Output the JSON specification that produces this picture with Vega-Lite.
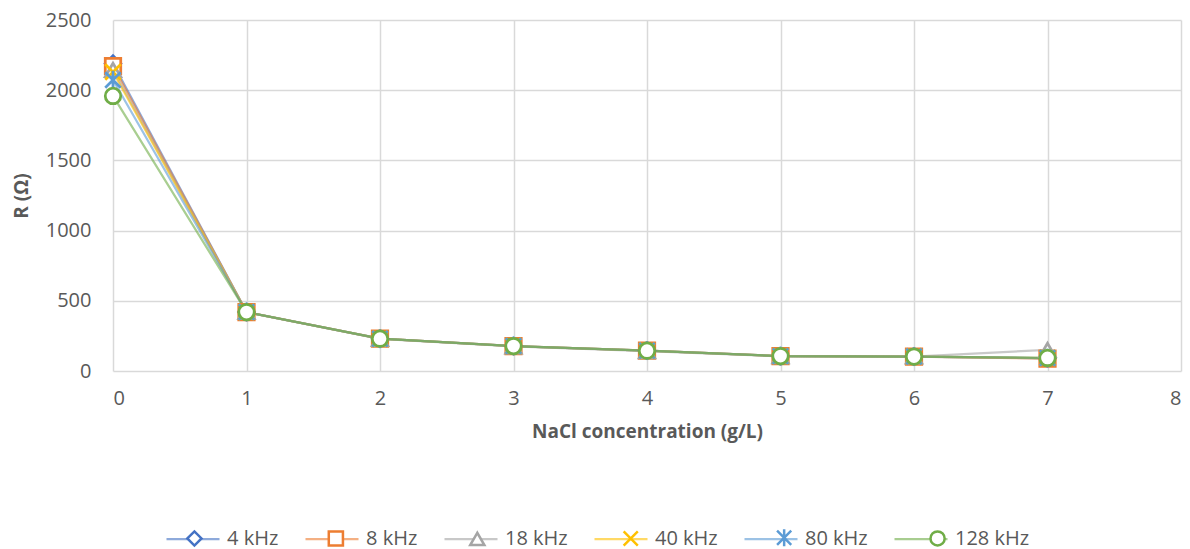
{
  "$schema": "https://vega.github.io/schema/vega-lite/v6.json",
  "width": 1068,
  "height": 351,
  "autosize": {"type": "none"},
  "padding": {"left": 113, "top": 20, "right": 9, "bottom": 178},
  "background": "white",
  "config": {
    "view": {"stroke": null},
    "font": "Open Sans",
    "axis": {
      "labelFont": "Open Sans",
      "labelFontSize": 20,
      "labelColor": "#595959",
      "titleFont": "Open Sans",
      "titleFontSize": 19,
      "titleFontWeight": "bold",
      "titleColor": "#595959",
      "gridColor": "#d9d9d9",
      "gridWidth": 1.5,
      "domain": false,
      "ticks": false
    },
    "legend": {
      "labelFont": "Open Sans",
      "labelFontSize": 20,
      "labelColor": "#595959"
    }
  },
  "data": {
    "values": [
      {"f": 0, "R": 2190, "s": "4 kHz"}, {"f": 1, "R": 420, "s": "4 kHz"}, {"f": 2, "R": 230, "s": "4 kHz"}, {"f": 3, "R": 178, "s": "4 kHz"}, {"f": 4, "R": 145, "s": "4 kHz"}, {"f": 5, "R": 106, "s": "4 kHz"}, {"f": 6, "R": 103, "s": "4 kHz"}, {"f": 7, "R": 90, "s": "4 kHz"},
      {"f": 0, "R": 2172, "s": "8 kHz"}, {"f": 1, "R": 420, "s": "8 kHz"}, {"f": 2, "R": 230, "s": "8 kHz"}, {"f": 3, "R": 178, "s": "8 kHz"}, {"f": 4, "R": 145, "s": "8 kHz"}, {"f": 5, "R": 106, "s": "8 kHz"}, {"f": 6, "R": 103, "s": "8 kHz"}, {"f": 7, "R": 88, "s": "8 kHz"},
      {"f": 0, "R": 2144, "s": "18 kHz"}, {"f": 1, "R": 420, "s": "18 kHz"}, {"f": 2, "R": 228, "s": "18 kHz"}, {"f": 3, "R": 175, "s": "18 kHz"}, {"f": 4, "R": 142, "s": "18 kHz"}, {"f": 5, "R": 105, "s": "18 kHz"}, {"f": 6, "R": 103, "s": "18 kHz"}, {"f": 7, "R": 150, "s": "18 kHz"},
      {"f": 0, "R": 2130, "s": "40 kHz"}, {"f": 1, "R": 420, "s": "40 kHz"}, {"f": 2, "R": 230, "s": "40 kHz"}, {"f": 3, "R": 178, "s": "40 kHz"}, {"f": 4, "R": 145, "s": "40 kHz"}, {"f": 5, "R": 106, "s": "40 kHz"}, {"f": 6, "R": 103, "s": "40 kHz"}, {"f": 7, "R": 92, "s": "40 kHz"},
      {"f": 0, "R": 2073, "s": "80 kHz"}, {"f": 1, "R": 420, "s": "80 kHz"}, {"f": 2, "R": 230, "s": "80 kHz"}, {"f": 3, "R": 178, "s": "80 kHz"}, {"f": 4, "R": 145, "s": "80 kHz"}, {"f": 5, "R": 106, "s": "80 kHz"}, {"f": 6, "R": 103, "s": "80 kHz"}, {"f": 7, "R": 92, "s": "80 kHz"},
      {"f": 0, "R": 1959, "s": "128 kHz"}, {"f": 1, "R": 420, "s": "128 kHz"}, {"f": 2, "R": 230, "s": "128 kHz"}, {"f": 3, "R": 178, "s": "128 kHz"}, {"f": 4, "R": 145, "s": "128 kHz"}, {"f": 5, "R": 106, "s": "128 kHz"}, {"f": 6, "R": 103, "s": "128 kHz"}, {"f": 7, "R": 93, "s": "128 kHz"}
    ]
  },
  "encoding": {
    "x": {
      "field": "f", "type": "quantitative",
      "scale": {"domain": [0, 8], "nice": false},
      "axis": {"values": [0, 1, 2, 3, 4, 5, 6, 7, 8], "title": "NaCl concentration (g/L)", "labelPadding": 17, "titlePadding": 14}
    },
    "y": {
      "field": "R", "type": "quantitative",
      "scale": {"domain": [0, 2500], "nice": false},
      "axis": {"values": [0, 500, 1000, 1500, 2000, 2500], "format": "d", "title": "R (Ω)", "labelPadding": 22, "titlePadding": 14}
    }
  },
  "layer": [
    {
      "mark": {"type": "line", "strokeWidth": 2.25, "opacity": 0.6},
      "encoding": {
        "color": {
          "field": "s", "type": "nominal",
          "scale": {
            "domain": ["4 kHz", "8 kHz", "18 kHz", "40 kHz", "80 kHz", "128 kHz"],
            "range": ["#4472C4", "#ED7D31", "#A5A5A5", "#FFC000", "#5B9BD5", "#70AD47"]
          },
          "legend": {
            "title": null,
            "orient": "none",
            "direction": "horizontal",
            "columns": 6,
            "legendX": 52,
            "legendY": 491,
            "padding": 0,
            "symbolType": "stroke",
            "symbolSize": 2809,
            "symbolStrokeWidth": 2.25,
            "symbolOpacity": 0.6,
            "labelOffset": 6,
            "columnPadding": 22
          }
        }
      }
    },
    {
      "mark": {"type": "point", "filled": false, "fill": "white", "fillOpacity": 1, "opacity": 1, "size": 240, "strokeWidth": 2.75},
      "encoding": {
        "color": {
          "field": "s", "type": "nominal",
          "legend": {
            "title": null,
            "orient": "none",
            "direction": "horizontal",
            "columns": 6,
            "legendX": 71.43,
            "legendY": 507.5,
            "padding": 0,
            "symbolSize": 200,
            "symbolStrokeWidth": 2.5,
            "symbolFillColor": "white",
            "labelOffset": 25.43,
            "columnPadding": 41.43,
            "labelOpacity": 0
          }
        },
        "shape": {
          "field": "s", "type": "nominal",
          "scale": {
            "domain": ["4 kHz", "8 kHz", "18 kHz", "40 kHz", "80 kHz", "128 kHz"],
            "range": ["diamond", "square", "triangle-up", "M-1,-1L1,1M-1,1L1,-1", "M-1,-1L1,1M-1,1L1,-1M0,-1.2L0,1.2", "circle"]
          },
          "legend": {
            "title": null,
            "orient": "none",
            "direction": "horizontal",
            "columns": 6,
            "legendX": 71.43,
            "legendY": 507.5,
            "padding": 0,
            "symbolSize": 200,
            "symbolStrokeWidth": 2.5,
            "symbolFillColor": "white",
            "labelOffset": 25.43,
            "columnPadding": 41.43,
            "labelOpacity": 0
          }
        }
      }
    }
  ],
  "resolve": {"legend": {"color": "independent", "shape": "independent"}}
}
